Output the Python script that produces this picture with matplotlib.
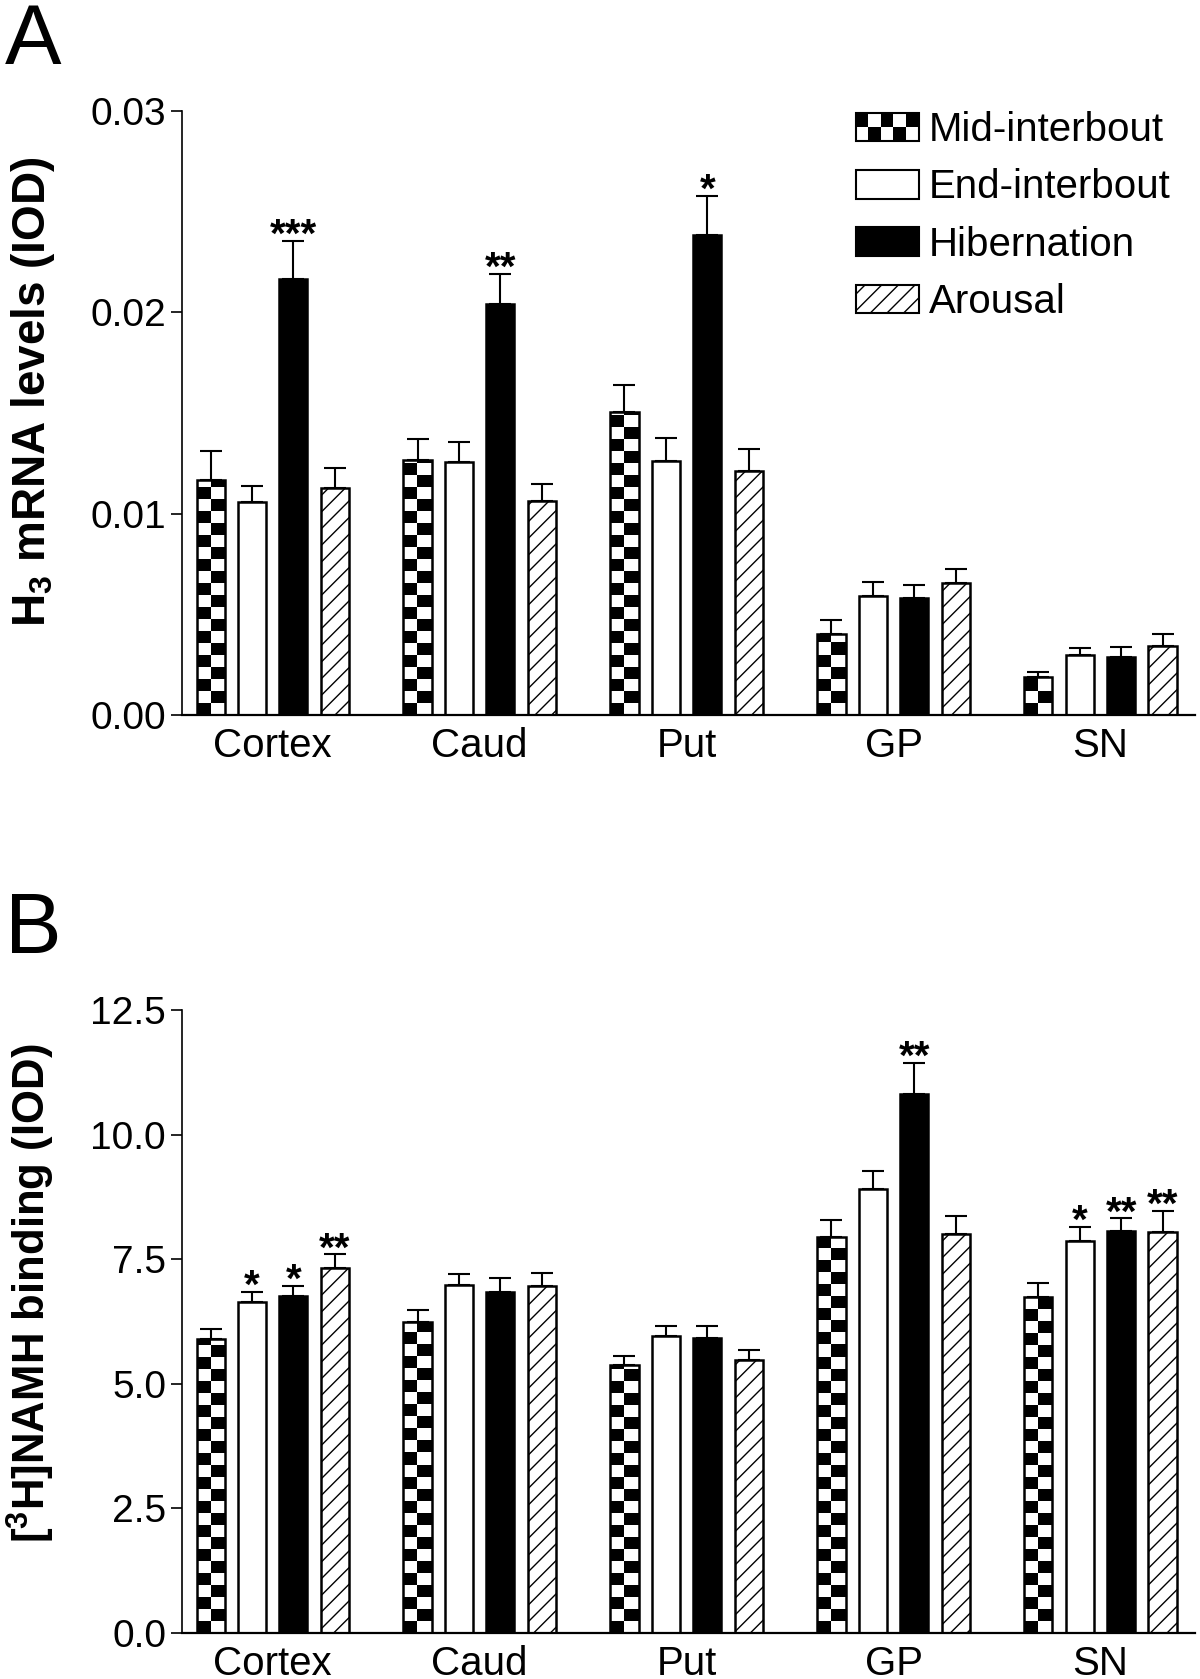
import numpy as np
import matplotlib.pyplot as plt
from matplotlib.patches import Rectangle, Patch
from matplotlib.legend_handler import HandlerBase
from matplotlib.ticker import FormatStrFormatter

plt.rcParams['font.family'] = ['Liberation Sans', 'DejaVu Sans']
plt.rcParams['mathtext.fontset'] = 'custom'
plt.rcParams['mathtext.rm'] = 'Liberation Sans'
plt.rcParams['mathtext.bf'] = 'Liberation Sans:bold'
plt.rcParams['hatch.linewidth'] = 1.0

regions = ['Cortex', 'Caud', 'Put', 'GP', 'SN']
groups = ['Mid-interbout', 'End-interbout', 'Hibernation', 'Arousal']

# Panel A: H3 mRNA levels (IOD), mean and SEM
mrna_mid = [0.01165, 0.01266, 0.01505, 0.00404, 0.00186]
mrna_mid_err = [0.00144, 0.00106, 0.00133, 0.00069, 0.00027]
mrna_end = [0.01059, 0.01255, 0.01261, 0.00590, 0.00298]
mrna_end_err = [0.00079, 0.00101, 0.00117, 0.00070, 0.00032]
mrna_hib = [0.02165, 0.02043, 0.02383, 0.00580, 0.00287]
mrna_hib_err = [0.00191, 0.00148, 0.00197, 0.00064, 0.00048]
mrna_aro = [0.01128, 0.01064, 0.01213, 0.00654, 0.00340]
mrna_aro_err = [0.00101, 0.00085, 0.00106, 0.00069, 0.00064]
mrna_stars = [['', '', '', '', ''],
              ['', '', '', '', ''],
              ['***', '**', '*', '', ''],
              ['', '', '', '', '']]

# Panel B: [3H]NAMH binding (IOD), mean and SEM
namh_mid = [5.89, 6.24, 5.37, 7.95, 6.75]
namh_mid_err = [0.21, 0.23, 0.19, 0.33, 0.28]
namh_end = [6.64, 6.98, 5.95, 8.90, 7.87]
namh_end_err = [0.21, 0.23, 0.21, 0.37, 0.28]
namh_hib = [6.76, 6.85, 5.91, 10.82, 8.06]
namh_hib_err = [0.21, 0.27, 0.25, 0.62, 0.26]
namh_aro = [7.33, 6.96, 5.47, 8.00, 8.04]
namh_aro_err = [0.27, 0.26, 0.20, 0.36, 0.43]
namh_stars = [['', '', '', '', ''],
              ['*', '', '', '', '*'],
              ['*', '', '', '**', '**'],
              ['**', '', '', '', '**']]


class CheckerHandler(HandlerBase):
    def create_artists(self, legend, orig_handle, xdescent, ydescent,
                       width, height, fontsize, trans):
        arts = []
        nc, nr = 5, 2
        cw, rh = width / nc, height / nr
        for i in range(nc):
            for j in range(nr):
                if (i + j) % 2 == 1:
                    arts.append(Rectangle((-xdescent + i * cw, -ydescent + j * rh), cw, rh,
                                          fc='black', ec='none', transform=trans))
        arts.append(Rectangle((-xdescent, -ydescent), width, height, fc='none',
                              ec='black', lw=1.5, transform=trans))
        return arts


def checker_fill(ax, patch, sq_px=12.0):
    x0, w, h = patch.get_x(), patch.get_width(), patch.get_height()
    p0 = ax.transData.transform((0, 0))
    p1 = ax.transData.transform((0, 1))
    px_per_unit = p1[1] - p0[1]
    rowh = sq_px / px_per_unit
    nrows = int(np.ceil(h / rowh))
    board = np.indices((nrows, 2)).sum(axis=0) % 2
    im = ax.imshow(board, cmap='gray', extent=[x0, x0 + w, 0, nrows * rowh],
                   origin='lower', aspect='auto', interpolation='nearest',
                   zorder=1)
    im.set_clip_path(patch)


def draw_panel(ax, means, errs, stars, ymax, ystep, fmt, ylabel, ylab_y, ylab_size):
    x = np.arange(len(regions)) * 5
    width = 0.68
    styles = [dict(facecolor='white'), dict(facecolor='white'),
              dict(facecolor='black'), dict(facecolor='white', hatch='//')]
    ax.set_xlim(-0.69, 23.78)
    ax.set_ylim(0, ymax)
    for j in range(4):
        xs = x + j
        bars = ax.bar(xs, means[j], width, edgecolor='black', linewidth=1.8,
                      zorder=2, **styles[j])
        if j == 0:
            for b in bars:
                b.set_facecolor('none')
                checker_fill(ax, b)
        ax.errorbar(xs, means[j], yerr=[np.zeros(5), errs[j]], fmt='none',
                    ecolor='black', elinewidth=1.5, capsize=8, capthick=1.5,
                    zorder=1.5)
        for i in range(5):
            if stars[j][i]:
                ax.annotate(stars[j][i], (xs[i], means[j][i] + errs[j][i]),
                            xytext=(0, -4.5), textcoords='offset points',
                            ha='center', va='baseline', fontsize=29,
                            fontweight='bold')
    ax.set_yticks(np.arange(0, ymax + ystep / 2, ystep))
    ax.yaxis.set_major_formatter(FormatStrFormatter(fmt))
    ax.set_xticks(x + 1.5)
    ax.set_xticklabels(regions)
    ax.tick_params(axis='x', length=0, labelsize=29, pad=9)
    ax.tick_params(axis='y', length=8, width=1.2, labelsize=28, pad=3.5)
    ax.spines['top'].set_visible(False)
    ax.spines['right'].set_visible(False)
    ax.spines['left'].set_linewidth(1.2)
    ax.spines['bottom'].set_linewidth(1.6)
    ax.set_ylabel(ylabel, fontsize=ylab_size, fontweight='bold')
    ax.yaxis.set_label_coords(-0.123, ylab_y)


fig = plt.figure(figsize=(12, 16.79), dpi=100)
axA = fig.add_axes([0.1517, 0.5742, 0.844, 0.3597])
axB = fig.add_axes([0.1517, 0.0274, 0.844, 0.3711])

draw_panel(axA, [mrna_mid, mrna_end, mrna_hib, mrna_aro],
           [mrna_mid_err, mrna_end_err, mrna_hib_err, mrna_aro_err],
           mrna_stars, 0.03, 0.01, '%.2f',
           r'$\mathbf{H_3}$ mRNA levels (IOD)', 0.535, 33)
draw_panel(axB, [namh_mid, namh_end, namh_hib, namh_aro],
           [namh_mid_err, namh_end_err, namh_hib_err, namh_aro_err],
           namh_stars, 12.5, 2.5, '%.1f',
           r'[$\mathbf{^3}$H]NAMH binding (IOD)', 0.546, 31.5)

handles = [Patch(fc='white', ec='black'),
           Patch(fc='white', ec='black', lw=1.5),
           Patch(fc='black', ec='black', lw=1.5),
           Patch(fc='white', ec='black', lw=1.5, hatch='//')]
axA.legend(handles, groups, handler_map={handles[0]: CheckerHandler()},
           loc='upper left', bbox_to_anchor=(0.665, 1.0), frameon=False,
           fontsize=29, handlelength=1.57, handleheight=0.72,
           handletextpad=0.25, labelspacing=0.48, borderpad=0,
           borderaxespad=0)

fig.text(0.004, 1 - 64 / 1679, 'A', fontsize=61, va='baseline')
fig.text(0.004, 1 - 953 / 1679, 'B', fontsize=61, va='baseline')

fig.savefig('out.png', dpi=100)
